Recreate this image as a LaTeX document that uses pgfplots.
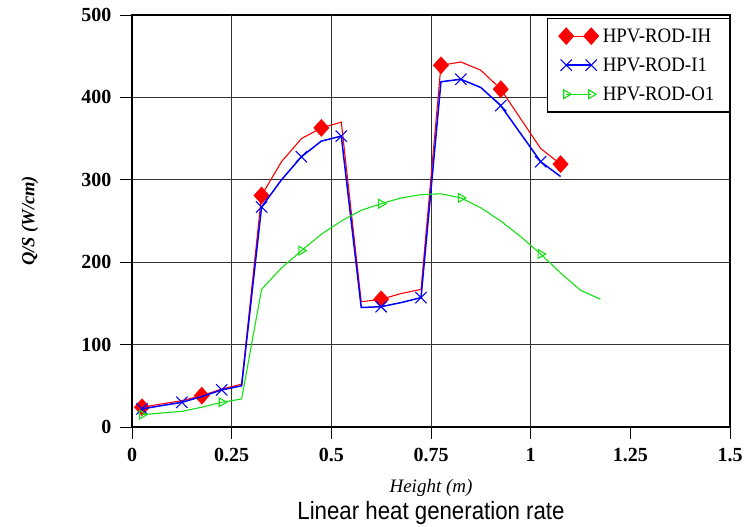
\documentclass[border=0pt]{standalone}
\usepackage{pgfplots}
\pgfplotsset{compat=1.18}
\usepackage{graphicx}
\usepackage{fontspec}
\setmainfont{Liberation Serif}
\newfontfamily\arialfont{Liberation Sans}

\definecolor{ihred}{RGB}{255,0,0}
\definecolor{iblue}{RGB}{0,0,255}
\definecolor{ogreen}{RGB}{20,225,20}

% slightly condensed legend text
\newcommand{\legtext}[1]{\scalebox{0.92}[1]{#1}}

% Linear heat generation rate along the rod height
\pgfplotstableread{
h     q
0.025 24
0.075 28
0.125 32
0.175 38
0.225 46
0.275 52
0.325 281
0.375 322
0.425 350
0.475 363
0.525 370
0.575 152
0.625 155
0.675 162
0.725 167
0.775 439
0.825 443
0.875 433
0.925 410
0.975 374
1.025 338
1.075 319
}\rodIH

\pgfplotstableread{
h     q
0.025 22
0.075 26
0.125 30
0.175 37
0.225 45
0.275 50
0.325 267
0.375 300
0.425 328
0.475 347
0.525 353
0.575 145
0.625 146
0.675 151
0.725 157
0.775 419
0.825 422
0.875 412
0.925 390
0.975 356
1.025 322
1.075 304
}\rodII

\pgfplotstableread{
h     q
0.025 15
0.075 17
0.125 19
0.175 24
0.225 30
0.275 34
0.325 167
0.375 193
0.425 214
0.475 234
0.525 250
0.575 263
0.625 271
0.675 278
0.725 282
0.775 283
0.825 278
0.875 266
0.925 250
0.975 231
1.025 210
1.075 187
1.125 166
1.175 155
}\rodOI

\begin{document}
\begin{tikzpicture}
\begin{axis}[
  at={(132pt,100pt)}, anchor=south west,
  scale only axis, width=598pt, height=412pt,
  xmin=0, xmax=1.5, ymin=0, ymax=500,
  clip mode=individual,
  xtick={0,0.25,0.5,0.75,1,1.25,1.5},
  ytick={0,100,200,300,400,500},
  xticklabels={0,0.25,0.5,0.75,1,1.25,1.5},
  tick pos=left,
  tick align=outside,
  major tick length=12pt,
  tick style={black, line width=0.9pt},
  axis line style={black, line width=1.6pt},
  extra x ticks={0.25,0.5,0.75,1},
  extra x tick labels={},
  extra y ticks={100,200,300,400},
  extra y tick labels={},
  extra tick style={grid=major, major grid style={black!80, line width=0.9pt}},
  /pgf/number format/assume math mode=true,
  tick label style={font=\fontsize{20}{22}\selectfont\bfseries},
  xticklabel style={yshift=-6pt},
  yticklabel style={xshift=-5pt},
  ylabel={Q/S (W/cm)},
  ylabel style={font=\fontsize{18.5}{20}\selectfont\bfseries\itshape,
    at={(axis description cs:-0.1706,0.5)}, anchor=center},
  xlabel={Height (m)},
  xlabel style={font=\fontsize{19}{21}\selectfont\itshape,
    at={(axis description cs:0.5,-0.148)}, anchor=center},
  legend style={at={(1,0.993)}, anchor=north east,
    draw=black, line width=1.4pt, fill=white,
    font=\fontsize{20.5}{23}\selectfont,
    inner xsep=11pt, inner ysep=8pt,
    row sep=10pt, cells={anchor=west},
    nodes={inner xsep=4pt}},
  legend image code/.code={%
    \draw[mark repeat=2,mark phase=1,#1] plot coordinates {(0pt,0pt) (12.5pt,0pt) (25pt,0pt)};},
]
\addplot[color=ihred, line width=1.1pt, mark=diamond*, mark size=8.5pt,
  mark repeat=3, mark phase=1,
  mark options={fill=ihred, draw=ihred, line width=0.5pt, xscale=1.2}]
  table[x=h, y=q] {\rodIH};
\addlegendentry{\legtext{HPV-ROD-IH}}

\addplot[color=iblue, line width=1.5pt, mark=x, mark size=8pt,
  mark repeat=2, mark phase=1, mark options={line width=1.1pt}]
  table[x=h, y=q] {\rodII};
\addlegendentry{\legtext{HPV-ROD-I1}}

\addplot[color=ogreen, line width=1.1pt, mark=triangle, mark size=5pt,
  mark repeat=4, mark phase=1, mark options={rotate=270, line width=1.1pt}]
  table[x=h, y=q] {\rodOI};
\addlegendentry{\legtext{HPV-ROD-O1}}

\node[font=\arialfont\fontsize{25}{28}\selectfont, anchor=center, xscale=0.89]
  at (axis description cs:0.5,-0.21) {Linear heat generation rate};
\end{axis}
\pgfresetboundingbox
\path (0pt,0pt) rectangle (744pt,527pt);
\end{tikzpicture}
\end{document}
